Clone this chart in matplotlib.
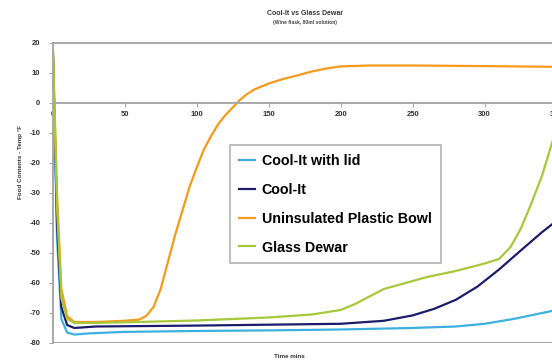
import matplotlib
matplotlib.use("Agg")
import matplotlib.pyplot as plt

plt.rcParams['font.family'] = ['Liberation Sans', 'DejaVu Sans']

# Temperature logs (minutes, °F)
lid_time = [0, 3, 6, 10, 15, 25, 50, 100, 150, 200, 250, 280, 300, 320, 340, 360]
lid_temp = [20, -45, -72, -76.5, -77.2, -76.8, -76.3, -76.0, -75.8, -75.5, -75.0, -74.5, -73.6, -72.0, -70.0, -68.0]

coolit_time = [0, 3, 6, 10, 15, 30, 100, 200, 230, 250, 265, 280, 295, 310, 325, 340, 360]
coolit_temp = [20, -40, -68, -74, -75, -74.5, -74.2, -73.6, -72.6, -70.8, -68.6, -65.6, -61.2, -55.5, -49.2, -43.0, -35.5]

bowl_time = [0, 3, 6, 10, 15, 30, 50, 60, 65, 70, 75, 80, 85, 90, 95, 100, 105, 110, 115, 120,
             125, 130, 135, 140, 150, 160, 170, 180, 190, 200, 220, 250, 300, 360]
bowl_temp = [20, -30, -62, -71, -73, -73, -72.6, -72.2, -71, -68, -62, -53, -44, -36, -28, -21.5,
             -15.5, -11, -7, -4, -1.5, 1, 3, 4.5, 6.5, 8, 9.2, 10.5, 11.5, 12.2, 12.5, 12.5, 12.3, 12.0]

dewar_time = [0, 3, 6, 10, 15, 30, 60, 100, 150, 180, 200, 210, 220, 230, 245, 260, 280, 300,
              310, 318, 325, 332, 340, 347, 355]
dewar_temp = [20, -35, -65, -72, -73.3, -73.3, -73, -72.5, -71.5, -70.5, -69, -67, -64.5, -62, -60,
              -58, -56, -53.5, -52, -48, -42, -34, -24, -13, -2]

series = [
    ("Cool-It with lid", lid_time, lid_temp, "#3DB0E0"),
    ("Cool-It", coolit_time, coolit_temp, "#1C1C6B"),
    ("Uninsulated Plastic Bowl", bowl_time, bowl_temp, "#F59A1C"),
    ("Glass Dewar", dewar_time, dewar_temp, "#A6C83A"),
]

x_ticks = [0, 50, 100, 150, 200, 250, 300, 350]
y_ticks = [20, 10, 0, -10, -20, -30, -40, -50, -60, -70, -80]

fig = plt.figure(figsize=(5.52, 3.61), dpi=100)
ax = fig.add_axes([0.0955, 0.0499, 0.939, 0.831])

for label, t, v, c in series:
    ax.plot(t, v, color=c, lw=1.6, label=label, solid_joinstyle='round')

ax.set_xlim(0, 360)
ax.set_ylim(-80, 20)

border = "#A8A8A8"
for s in ["top", "left", "right"]:
    ax.spines[s].set_color(border)
    ax.spines[s].set_linewidth(1.4)
ax.spines["bottom"].set_position(("data", 0))
ax.spines["bottom"].set_color(border)
ax.spines["bottom"].set_linewidth(1.4)
ax.axhline(-80, color=border, lw=1.6, zorder=0.5)

ax.set_xticks(x_ticks)
ax.set_yticks(y_ticks)
ax.set_yticklabels([str(v) for v in y_ticks])
ax.tick_params(axis="x", direction="out", length=3, width=0.8, color=border,
               labelsize=5.5, pad=3, labelcolor="#333333")
ax.tick_params(axis="y", direction="out", length=3, width=0.8, color=border,
               labelsize=5.5, pad=6, labelcolor="#333333")
for lab in ax.get_xticklabels() + ax.get_yticklabels():
    lab.set_fontweight("bold")

fig.text(0.553, 0.962, "Cool-It vs Glass Dewar", ha="center", va="center",
         fontsize=5, fontweight="bold", color="#333333")
fig.text(0.553, 0.937, "(Wine flask, 80ml solution)", ha="center", va="center",
         fontsize=3.6, fontweight="bold", color="#444444")
fig.text(0.525, 0.012, "Time mins", ha="center", va="center",
         fontsize=4.5, fontweight="bold", color="#333333")
fig.text(0.038, 0.55, "Food Contents - Temp °F", ha="center", va="center",
         rotation=90, fontsize=4.5, fontweight="bold", color="#333333")

leg = fig.legend(loc="upper left", bbox_to_anchor=(230 / 552, 1 - 145 / 361),
                 prop={"weight": "bold", "size": 10.3},
                 frameon=True, fancybox=False, edgecolor="#A0A0A0",
                 handlelength=1.15, handletextpad=0.45, labelspacing=1.04,
                 borderpad=0.62, borderaxespad=0)
leg.get_frame().set_linewidth(1.2)
for h in leg.legend_handles:
    h.set_linewidth(1.6)

fig.savefig("out.png", dpi=100)
